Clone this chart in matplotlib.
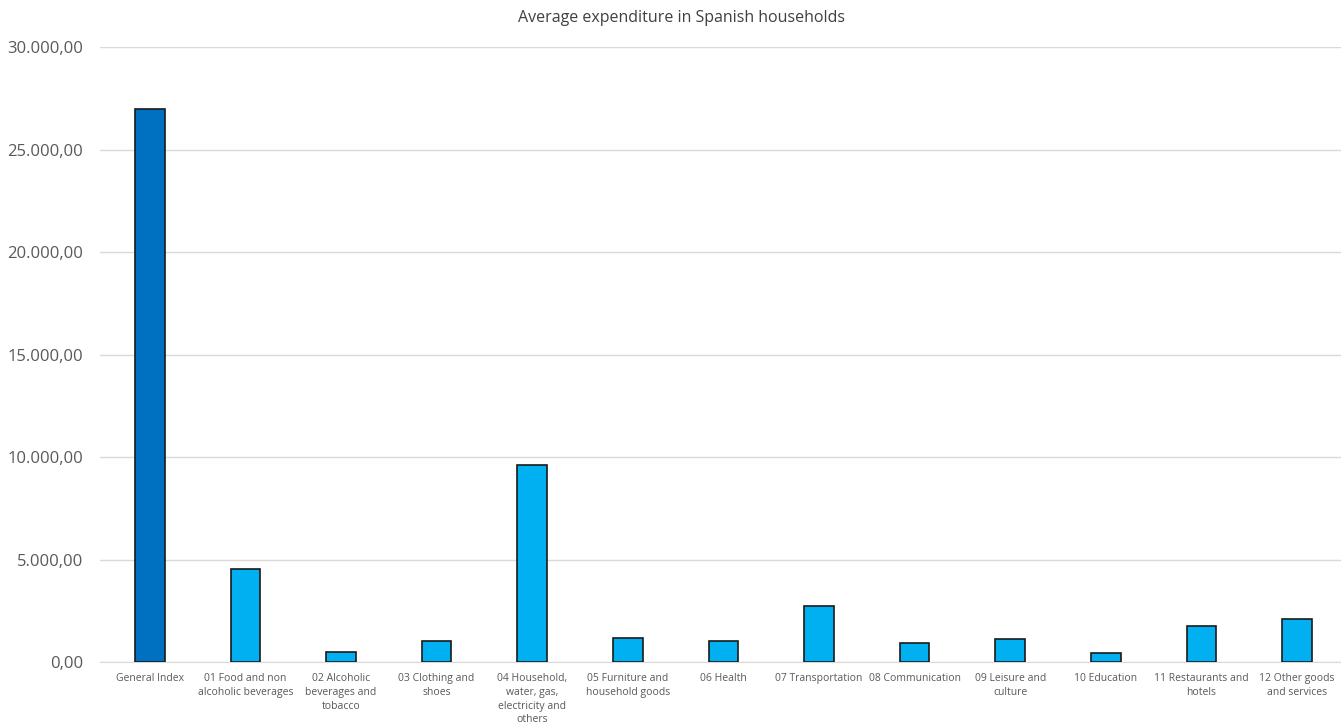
import numpy as np
import matplotlib.pyplot as plt
from matplotlib.ticker import FuncFormatter

categories = [
    "General Index",
    "01 Food and non\nalcoholic beverages",
    "02 Alcoholic\nbeverages and\ntobacco",
    "03 Clothing and\nshoes",
    "04 Household,\nwater, gas,\nelectricity and\nothers",
    "05 Furniture and\nhousehold goods",
    "06 Health",
    "07 Transportation",
    "08 Communication",
    "09 Leisure and\nculture",
    "10 Education",
    "11 Restaurants and\nhotels",
    "12 Other goods\nand services",
]
expenditure = [27000, 4520, 500, 1020, 9620, 1160, 1020, 2720, 940, 1120, 440, 1760, 2100]

plt.rcParams['font.family'] = ['Open Sans', 'DejaVu Sans']

fig = plt.figure(figsize=(13.41, 7.26), dpi=100)
ax = fig.add_axes([0.0746, 0.0882, 0.9254, 0.8464])

x = np.arange(len(categories))
colors = ['#0070C0'] + ['#00B0F0'] * (len(categories) - 1)
ax.bar(x, expenditure, width=0.31, color=colors, edgecolor='#1a1a1a', linewidth=1.2, zorder=3)

ax.set_ylim(0, 30000)
ax.set_xlim(-0.52, 12.46)
ax.set_yticks(np.arange(0, 30001, 5000))
ax.yaxis.set_major_formatter(FuncFormatter(
    lambda v, p: f"{v:,.2f}".replace(",", "X").replace(".", ",").replace("X", ".")))
ax.grid(axis='y', color='#D9D9D9', linewidth=1, zorder=0)
ax.set_axisbelow(True)

for s in ['top', 'right', 'left']:
    ax.spines[s].set_visible(False)
ax.spines['bottom'].set_color('#D9D9D9')
ax.tick_params(axis='both', length=0, colors='#595959')
ax.tick_params(axis='y', labelsize=12, pad=12)
ax.set_xticks(x)
ax.set_xticklabels(categories, fontsize=7.5, linespacing=1.35, va='top')
ax.tick_params(axis='x', pad=8)

fig.text(0.508, 0.975, "Average expenditure in Spanish households", ha='center', va='center',
         fontsize=11.5, color='#404040')

plt.savefig("out.png", dpi=100)
